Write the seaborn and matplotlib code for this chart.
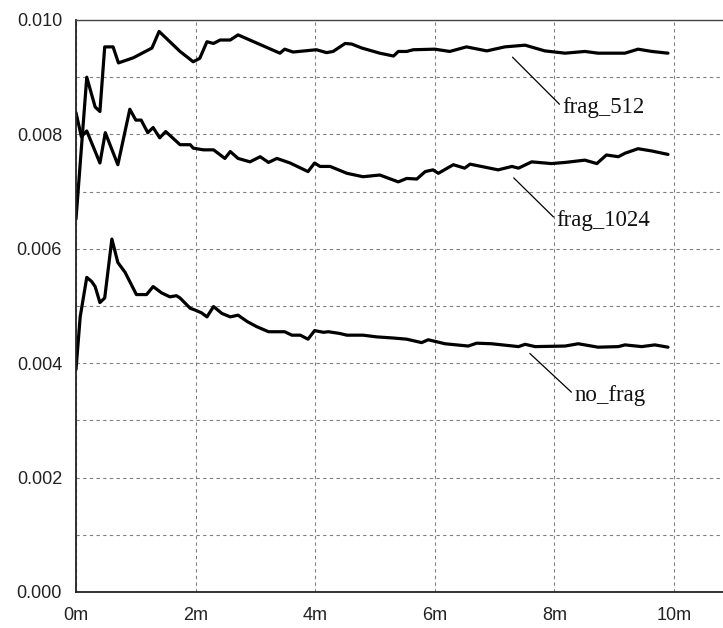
"""
Packet loss rate over time for the three fragmentation settings
"""

import pandas as pd
import seaborn as sns
import matplotlib.pyplot as plt

# values (x in minutes)
frag_512_x = [0.0, 0.18, 0.32, 0.40, 0.48, 0.62, 0.71, 0.96, 1.27, 1.39, 1.74, 1.96, 2.07,
              2.19, 2.30, 2.41, 2.58, 2.71, 3.41, 3.49, 3.63, 4.02, 4.19, 4.30, 4.50, 4.61,
              4.78, 5.08, 5.31, 5.39, 5.53, 5.64, 6.00, 6.25, 6.53, 6.87, 7.17, 7.51, 7.84,
              8.18, 8.51, 8.73, 9.18, 9.40, 9.63, 9.90]
frag_512_y = [0.00652, 0.00900, 0.00848, 0.00840, 0.00953, 0.00953, 0.00925, 0.00934, 0.00951,
              0.00980, 0.00945, 0.00927, 0.00933, 0.00962, 0.00959, 0.00965, 0.00965, 0.00974,
              0.00942, 0.00949, 0.00944, 0.00948, 0.00943, 0.00945, 0.00959, 0.00958, 0.00951,
              0.00942, 0.00937, 0.00945, 0.00945, 0.00948, 0.00949, 0.00945, 0.00953, 0.00946,
              0.00953, 0.00956, 0.00946, 0.00942, 0.00945, 0.00942, 0.00942, 0.00949, 0.00945,
              0.00942]

frag_1024_x = [0.0, 0.09, 0.18, 0.40, 0.49, 0.70, 0.90, 1.00, 1.09, 1.20, 1.29, 1.40, 1.50,
               1.74, 1.91, 1.96, 2.13, 2.30, 2.49, 2.58, 2.71, 2.91, 3.08, 3.22, 3.36, 3.58,
               3.88, 3.99, 4.08, 4.25, 4.53, 4.80, 5.08, 5.39, 5.53, 5.70, 5.84, 5.97, 6.06,
               6.31, 6.50, 6.59, 7.06, 7.29, 7.40, 7.62, 7.95, 8.18, 8.51, 8.71, 8.87, 9.07,
               9.18, 9.40, 9.63, 9.90]
frag_1024_y = [0.00838, 0.00796, 0.00806, 0.00750, 0.00803, 0.00747, 0.00844, 0.00825, 0.00825,
               0.00803, 0.00812, 0.00794, 0.00805, 0.00782, 0.00782, 0.00776, 0.00773, 0.00773,
               0.00758, 0.00770, 0.00758, 0.00752, 0.00761, 0.00751, 0.00758, 0.00750, 0.00735,
               0.00750, 0.00744, 0.00744, 0.00732, 0.00726, 0.00729, 0.00717, 0.00723, 0.00722,
               0.00735, 0.00738, 0.00732, 0.00747, 0.00741, 0.00748, 0.00738, 0.00744, 0.00741,
               0.00752, 0.00749, 0.00751, 0.00755, 0.00749, 0.00764, 0.00761, 0.00767, 0.00775,
               0.00771, 0.00765]

no_frag_x = [0.0, 0.07, 0.18, 0.26, 0.32, 0.40, 0.48, 0.60, 0.70, 0.82, 1.01, 1.18, 1.29,
             1.43, 1.57, 1.68, 1.74, 1.91, 1.99, 2.10, 2.19, 2.30, 2.44, 2.58, 2.71, 2.86,
             3.02, 3.22, 3.36, 3.49, 3.61, 3.75, 3.88, 3.99, 4.14, 4.22, 4.41, 4.53, 4.80,
             5.03, 5.31, 5.53, 5.78, 5.89, 6.17, 6.56, 6.70, 6.95, 7.40, 7.51, 7.68, 8.18,
             8.40, 8.73, 9.07, 9.18, 9.46, 9.68, 9.90]
no_frag_y = [0.00389, 0.00481, 0.00550, 0.00543, 0.00534, 0.00506, 0.00514, 0.00617, 0.00576,
             0.00559, 0.00520, 0.00520, 0.00534, 0.00523, 0.00516, 0.00518, 0.00514, 0.00496,
             0.00493, 0.00488, 0.00481, 0.00499, 0.00487, 0.00481, 0.00484, 0.00473, 0.00464,
             0.00455, 0.00455, 0.00455, 0.00449, 0.00449, 0.00442, 0.00457, 0.00454, 0.00455,
             0.00452, 0.00449, 0.00449, 0.00446, 0.00444, 0.00442, 0.00436, 0.00441, 0.00434,
             0.00430, 0.00435, 0.00434, 0.00429, 0.00433, 0.00429, 0.00430, 0.00434, 0.00428,
             0.00429, 0.00432, 0.00429, 0.00432, 0.00428]

series_names = ["frag_512", "frag_1024", "no_frag"]
x_ticks = [0, 2, 4, 6, 8, 10]
x_tick_labels = ["0m", "2m", "4m", "6m", "8m", "10m"]
y_ticks = [0.000, 0.001, 0.002, 0.003, 0.004, 0.005, 0.006, 0.007, 0.008, 0.009, 0.010]
y_tick_labels = ["0.000", "", "0.002", "", "0.004", "", "0.006", "", "0.008", "", "0.010"]

# label anchor on the curve, and where the label text sits
label_points = [(7.30, 0.00935), (7.32, 0.00724), (7.59, 0.00417)]
label_texts = [(8.14, 0.00847), (8.04, 0.00650), (8.34, 0.00344)]

frames = []
for name, xs, ys in [("frag_512", frag_512_x, frag_512_y),
                     ("frag_1024", frag_1024_x, frag_1024_y),
                     ("no_frag", no_frag_x, no_frag_y)]:
    frames.append(pd.DataFrame({"minute": xs, "rate": ys, "series": name}))
df = pd.concat(frames, ignore_index=True)

sns.set_style("white")
plt.rcParams["font.family"] = ["Liberation Sans", "DejaVu Sans"]

fig = plt.figure(figsize=(7.23, 6.28), dpi=100)
ax = fig.add_axes([76 / 723, 36 / 628, 1 - 76 / 723, 572 / 628])

for name in series_names:
    sub = df[df["series"] == name]
    sns.lineplot(data=sub, x="minute", y="rate", color="black", linewidth=2.3,
                 estimator=None, ax=ax, legend=False)

for name, xy, xytext in zip(series_names, label_points, label_texts):
    ax.annotate(name, xy=xy, xytext=xytext, ha="left", va="center",
                fontsize=16.5, family=["Liberation Serif", "DejaVu Serif"], color="#111111",
                arrowprops=dict(arrowstyle="-", color="black", lw=0.9,
                                shrinkA=0, shrinkB=0, relpos=(0, 0.5)))

ax.set_xlim(0, 10.82)
ax.set_ylim(0, 0.010)
ax.set_xticks(x_ticks)
ax.set_xticklabels(x_tick_labels)
ax.set_yticks(y_ticks)
ax.set_yticklabels(y_tick_labels)
ax.set_xlabel("")
ax.set_ylabel("")

ax.grid(True, color="#808080", linestyle=(0, (3, 3)), linewidth=0.8)
ax.tick_params(axis="both", direction="out", colors="#222222", labelsize=13,
               width=1.1, length=6)
ax.tick_params(axis="y", pad=4)
ax.tick_params(axis="x", pad=5)

ax.spines["right"].set_visible(False)
ax.spines["left"].set_color("#222222")
ax.spines["bottom"].set_color("#222222")
ax.spines["top"].set_color("#444444")
ax.spines["left"].set_linewidth(1.3)
ax.spines["bottom"].set_linewidth(1.3)
ax.spines["top"].set_linewidth(1.0)

fig.savefig("out.png", dpi=100)
plt.close(fig)
print("Saved out.png")
